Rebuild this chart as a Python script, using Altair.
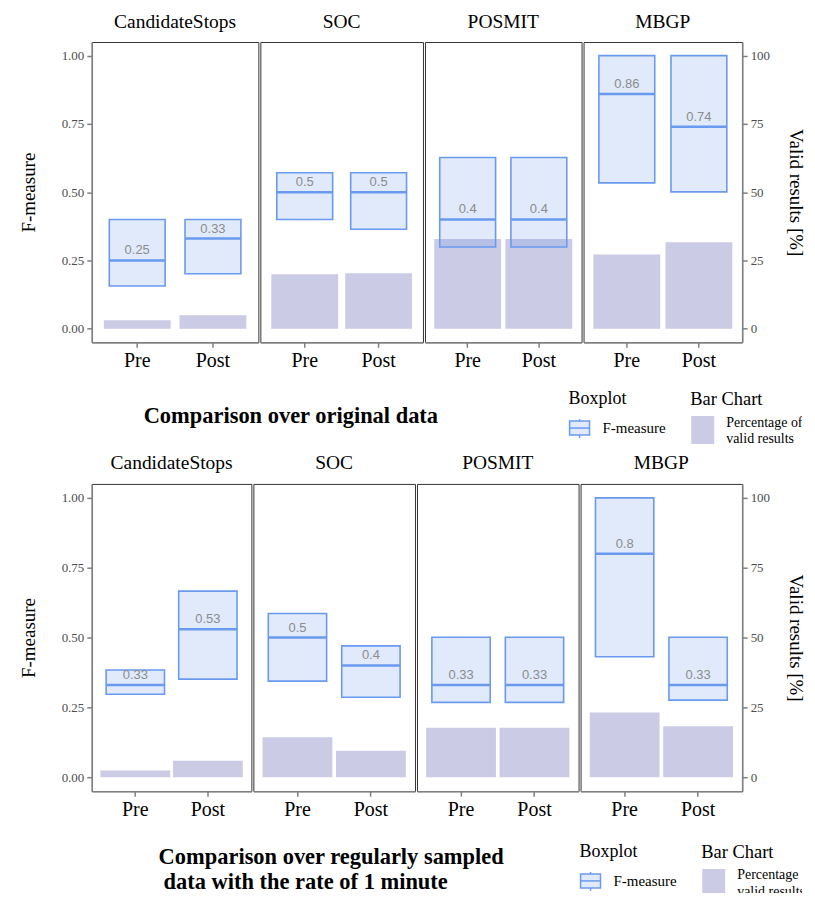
import altair as alt
import pandas as pd

methods = ["CandidateStops", "SOC", "POSMIT", "MBGP"]
phases = ["Pre", "Post"]

# Comparison over original data (order: method x phase)
orig_q1 = [0.156, 0.201, 0.400, 0.364, 0.299, 0.299, 0.534, 0.501]
orig_med = [0.25, 0.33, 0.50, 0.50, 0.40, 0.40, 0.86, 0.74]
orig_q3 = [0.400, 0.400, 0.571, 0.571, 0.627, 0.627, 1.000, 1.000]
orig_valid = [3.1, 4.9, 19.9, 20.3, 32.8, 32.8, 27.2, 31.6]

# Comparison over regularly sampled data (1 minute)
samp_q1 = [0.297, 0.351, 0.344, 0.286, 0.268, 0.268, 0.431, 0.276]
samp_med = [0.33, 0.53, 0.50, 0.40, 0.33, 0.33, 0.80, 0.33]
samp_q3 = [0.384, 0.666, 0.586, 0.470, 0.501, 0.501, 1.000, 0.501]
samp_valid = [2.4, 5.9, 14.3, 9.5, 17.7, 17.7, 23.2, 18.2]

SERIF = "Liberation Serif"
SANS = "Liberation Sans"
BOX_FILL = "#6495ED"
BOX_STROKE = "#6a9af0"
BAR_COLOR = "#cbcbe6"
AXIS_GREY = "#7f7f7f"


def make_df(q1, med, q3, valid):
    rows = []
    i = 0
    for m in methods:
        for p in phases:
            rows.append(dict(method=m, phase=p, q1=q1[i], med=med[i], q3=q3[i],
                             valid=valid[i], label=f"{med[i]:g}"))
            i += 1
    return pd.DataFrame(rows)


def panel(df, m, w, h, first, last, barw, boxw):
    d = df[df["method"] == m]
    xenc = alt.X("phase:N", sort=phases,
                 scale=alt.Scale(paddingInner=0, paddingOuter=0.1),
                 axis=alt.Axis(title=None, labelAngle=0, labelFont=SERIF, labelFontSize=20,
                               labelColor="black", labelPadding=3, tickSize=5,
                               tickColor=AXIS_GREY, tickWidth=1.5,
                               domainColor=AXIS_GREY, domainWidth=1.5))
    yl = alt.Scale(domain=[-0.05, 1.05], nice=False, zero=False)
    yr = alt.Scale(domain=[-5, 105], nice=False, zero=False)
    if first:
        left_axis = alt.Axis(orient="left", title="F-measure", values=[0, 0.25, 0.5, 0.75, 1],
                             format=".2f", grid=False, labelFont=SERIF, labelFontSize=13,
                             labelColor="#4d4d4d", tickSize=5, tickColor=AXIS_GREY, tickWidth=1.5,
                             domainColor=AXIS_GREY, domainWidth=1.5, labelPadding=3,
                             titleFont=SERIF, titleFontSize=19, titleFontWeight="normal",
                             titleColor="black", titlePadding=23)
    else:
        left_axis = None
    if last:
        right_axis = alt.Axis(orient="right", title="Valid results [%]", values=[0, 25, 50, 75, 100],
                              grid=False, labelFont=SERIF, labelFontSize=13,
                              labelColor="#4d4d4d", tickSize=5, tickColor=AXIS_GREY, tickWidth=1.5,
                              domainColor=AXIS_GREY, domainWidth=1.5, labelPadding=3,
                              titleFont=SERIF, titleFontSize=19, titleFontWeight="normal",
                              titleColor="black", titlePadding=16)
    else:
        right_axis = None
    base = alt.Chart(d)
    bars = base.mark_bar(width=barw, color=BAR_COLOR).encode(
        x=xenc, y=alt.Y("valid:Q", scale=yr, axis=right_axis), y2=alt.datum(0))
    box = base.mark_bar(width=boxw, fill=BOX_FILL, fillOpacity=0.2, stroke=BOX_STROKE,
                        strokeWidth=1.6).encode(
        x=xenc, y=alt.Y("q1:Q", scale=yl, axis=left_axis), y2="q3:Q")
    med = base.mark_tick(size=boxw, thickness=2.5, color=BOX_STROKE, opacity=1).encode(
        x=xenc, y=alt.Y("med:Q", scale=yl, axis=left_axis))
    txt = base.mark_text(dy=-10, font=SANS, fontSize=13, color="#8c8c8c").encode(
        x=xenc, y=alt.Y("med:Q", scale=yl, axis=left_axis), text="label:N")
    boxes = alt.layer(box, med, txt)
    return alt.layer(bars, boxes).resolve_scale(y="independent").properties(
        width=w, height=h,
        title=alt.TitleParams(m, font=SERIF, fontSize=19.5, fontWeight="normal",
                              color="black", offset=10))


def row(df, widths, h, barw, boxw):
    panels = [panel(df, m, widths[i], h, i == 0, i == len(methods) - 1, barw, boxw)
              for i, m in enumerate(methods)]
    return alt.hconcat(*panels, spacing=0)


def text_at(base, s, x, y, size, weight="normal"):
    return base.mark_text(text=s, align="left", baseline="middle", font=SERIF, fontSize=size,
                          fontWeight=weight, color="black", clip=True).encode(
        x=alt.value(x), y=alt.value(y))


def footer(title_lines, tsize, tx, ty, lg, width, height, lstep=25.5):
    base = alt.Chart(pd.DataFrame({"k": [0]}))
    layers = []
    for j, line in enumerate(title_lines):
        layers.append(text_at(base, line, tx + (5 if j else 0), ty + lstep * j, tsize, "bold"))
    bx, by = lg  # anchor: left of "Boxplot" label and its centre line
    layers.append(text_at(base, "Boxplot", bx, by, 18))
    layers.append(base.mark_rule(color=BOX_STROKE, strokeWidth=1.5).encode(
        x=alt.value(bx + 11), y=alt.value(by + 20), y2=alt.value(by + 39)))
    layers.append(base.mark_rect(fill="#e0eafb", stroke=BOX_STROKE, strokeWidth=1.5).encode(
        x=alt.value(bx + 1), x2=alt.value(bx + 21), y=alt.value(by + 22), y2=alt.value(by + 36)))
    layers.append(base.mark_rule(color=BOX_STROKE, strokeWidth=1.5).encode(
        x=alt.value(bx + 1), x2=alt.value(bx + 21), y=alt.value(by + 29)))
    layers.append(text_at(base, "F-measure", bx + 34, by + 29, 15))
    layers.append(text_at(base, "Bar Chart", bx + 122, by, 18.5))
    layers.append(base.mark_rect(fill=BAR_COLOR, clip=True).encode(
        x=alt.value(bx + 123), x2=alt.value(bx + 146), y=alt.value(by + 17), y2=alt.value(by + 45)))
    layers.append(text_at(base, "Percentage of", bx + 158, by + 23.5, 14))
    layers.append(text_at(base, "valid results", bx + 158, by + 40, 14))
    return alt.layer(*layers).properties(
        width=width, height=height, view=alt.ViewBackground(stroke="transparent"))


df_orig = make_df(orig_q1, orig_med, orig_q3, orig_valid)
df_samp = make_df(samp_q1, samp_med, samp_q3, samp_valid)

row1 = row(df_orig, [167, 163, 157, 159], 301, 67, 56)
foot1 = footer(["Comparison over original data"], 22.5, 52, 44, (478, 27), 712, 80)
row2 = row(df_samp, [160, 162, 162, 162], 308, 70, 58.5)
foot2 = footer(["Comparison over regularly sampled", "data with the rate of 1 minute"], 22.5,
               67, 36, (489, 31), 712, 72)

chart = alt.vconcat(row1, foot1, row2, foot2, spacing=0).properties(
    padding={"left": 10, "top": 2, "right": 2, "bottom": 0}
).configure_view(stroke="#333333", strokeWidth=1)

chart.save("out.html", embed_options={"renderer": "svg", "actions": False})
